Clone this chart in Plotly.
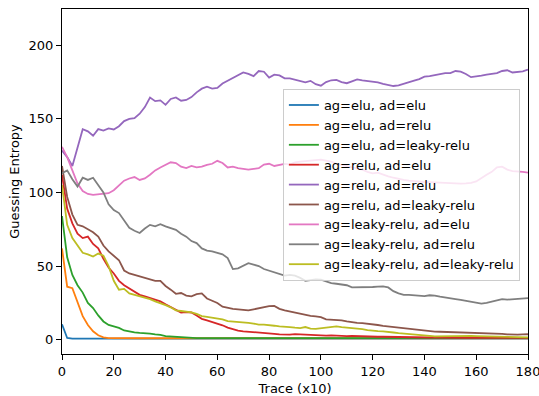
import plotly.graph_objects as go

x = list(range(0, 181, 2))

elu_elu = [10.5, 1.2] + [0.8] * 89

elu_relu = [62, 36, 35, 25, 16, 10, 5.7, 3.0, 1.6, 1.1] + [1.0] * 81

elu_leaky = [84, 56, 44, 37, 32, 25, 21.5, 16.5, 12.4, 10, 9, 8, 6.3, 5.5, 5, 4.6,
             4.5, 4.1, 3.6, 3.3, 2.4, 2.2, 1.8, 1.3, 1.3, 1.2] + [1.1] * 65

relu_elu = [112, 89, 79, 72, 69, 70, 65, 62, 55, 49, 45, 40, 37, 35, 33, 30.5,
            29.5, 28.3, 27, 26, 24, 22, 20, 18.5, 18.8, 18.5, 16.5, 14.2, 13.2, 12,
            11.2, 9.8, 8.2, 7, 6.2, 5.7, 5.5, 5.2, 5, 4.6, 4.3, 4.0, 3.6, 3.3, 3.5,
            3.8, 3.6, 3.2, 3.0, 2.9, 2.9, 2.8, 2.9, 2.6, 2.7, 2.5, 2.6, 2.4, 2.3,
            2.3, 2.1, 2.0, 2.0, 1.9, 1.9, 1.8, 1.8, 1.7, 1.6, 1.6, 1.5, 1.5, 1.5,
            1.4, 1.5, 1.4, 1.4, 1.4, 1.3, 1.4, 1.3, 1.3, 1.3, 1.3, 1.3, 1.3, 1.3,
            1.3, 1.3, 1.3, 1.3]

relu_relu = [128.5, 124, 118, 130, 143, 141.5, 138.5, 143, 142, 143.5, 142.8, 145,
             148.5, 150, 150.5, 153.5, 158, 164.5, 162, 162.5, 159.5, 163.5, 164.5,
             162.3, 162.8, 164.8, 168, 170.5, 171.8, 170.5, 171, 174, 176, 177.5,
             180, 181.5, 180.5, 179, 182.5, 182, 178, 180, 179.5, 177.5, 177.5,
             176.5, 175.5, 174.8, 175.8, 173.5, 172.5, 175, 176.2, 176.4, 175,
             174.2, 175.5, 176.8, 176.2, 175.8, 175, 174.8, 173.8, 173, 172.3,
             172.8, 174, 175.3, 176, 177, 178.6, 179, 179.8, 180.5, 181, 181,
             182.5, 182, 180.5, 178.3, 178.6, 179.3, 180, 180.5, 181, 182.5, 183,
             181.5, 181.8, 182.2, 183.5]

relu_leaky = [118, 97, 85, 78, 77, 75, 73, 70, 64, 60, 57, 54, 47, 45, 44, 43, 42,
              41, 40, 40, 36.5, 34, 31.2, 31.7, 30, 29.5, 31, 31.5, 28, 26.5, 24.9,
              22.4, 21.5, 21, 20.6, 20.3, 19.9, 20.6, 21.5, 22.2, 22.8, 23, 21, 20,
              19.2, 18.3, 17.3, 16.8, 16.2, 15.8, 15.3, 13.8, 13.6, 13.8, 13.2, 12.5,
              11.8, 11.5, 11.3, 11, 10.5, 10, 9.4, 9, 8.5, 8, 7.6, 7.3, 7, 6.6, 6.2,
              5.9, 5.5, 5.4, 5.3, 5.2, 5.1, 5.0, 5.0, 4.8, 4.7, 4.5, 4.4, 4.2, 4.0,
              3.9, 3.6, 3.4, 3.5, 3.6, 3.7]

leaky_elu = [131, 124, 115, 106, 101, 99, 98.4, 98.6, 98.8, 99.5, 101.5, 105, 108,
             109.5, 110.5, 108.5, 109.5, 112, 115, 117, 118.5, 120.5, 120, 117.5,
             116.5, 118, 117, 117.5, 118.7, 119.5, 121.5, 120, 117, 117.5, 116.5,
             116, 115.5, 116, 116.5, 119, 119.5, 118, 118.5, 119.4, 119, 120.5, 121,
             121.5, 122, 122, 122.3, 121.5, 121, 119.5, 118.7, 118, 117.5, 116.5,
             115.5, 114, 113, 113.5, 112, 111, 110, 109, 108.5, 108, 107.5, 107.5,
             107, 107, 106.8, 106.5, 106.3, 106.5, 106.3, 106, 106.2, 106.5, 107.5,
             110, 112, 114, 117, 117.5, 115.5, 114.5, 114.5, 114, 113.5]

leaky_relu = [113, 115, 109, 104, 110, 108.5, 110, 105, 100, 92, 88, 86, 81, 76, 74,
              72.5, 75.5, 78, 77, 78.5, 77, 76, 74.6, 72, 70, 67, 65.6, 62, 60.5, 60,
              59, 58, 55.4, 48, 48.5, 50.5, 52, 51, 50, 48, 47, 45.5, 44.5, 43.5, 44,
              43.5, 42, 40, 40.5, 41, 40.8, 39.5, 38.5, 38, 37.5, 37, 35.5, 35.5,
              35.5, 35.3, 35.8, 36, 36.2, 35.5, 33, 31.5, 30.5, 30.5, 30.2, 29.8,
              29.6, 30.2, 30, 29.2, 28.5, 28, 27.5, 27, 26.5, 26, 25.3, 24.5, 25, 26,
              26.5, 27.5, 27.2, 27.5, 28, 28.5, 28.3]

leaky_leaky = [105, 78, 69, 64, 59, 58, 56.5, 58.5, 57, 50, 40, 34, 34.5, 31.5, 30.5,
               30, 29, 27.6, 26, 25, 23.5, 22, 20, 19.5, 19.2, 18.5, 17.5, 16, 15.5,
               15, 14.6, 13.8, 12.6, 12.4, 12, 11.8, 11.4, 11, 10.3, 10.2, 10, 9.5, 9,
               9, 8.6, 8.2, 7.9, 8.6, 7.5, 7.4, 7.8, 8.2, 8.6, 9, 8.5, 8.2, 8, 7.6,
               7.2, 6.5, 6, 5.8, 5.7, 5.5, 4.9, 4.5, 4.1, 3.9, 3.6, 3.4, 3.0, 2.6,
               2.3, 2.4, 2.5, 2.6, 2.6, 2.7, 2.7, 2.6, 2.5, 2.4, 2.4, 2.3, 2.3, 2.3,
               2.2, 2.0, 1.9, 1.7, 1.6]

x_ticks = [0, 20, 40, 60, 80, 100, 120, 140, 160, 180]
y_ticks = [0, 50, 100, 150, 200]

names = ["ag=elu, ad=elu", "ag=elu, ad=relu", "ag=elu, ad=leaky-relu",
         "ag=relu, ad=elu", "ag=relu, ad=relu", "ag=relu, ad=leaky-relu",
         "ag=leaky-relu, ad=elu", "ag=leaky-relu, ad=relu",
         "ag=leaky-relu, ad=leaky-relu"]
series = [elu_elu, elu_relu, elu_leaky, relu_elu, relu_relu, relu_leaky,
          leaky_elu, leaky_relu, leaky_leaky]
colors = ["#1f77b4", "#ff7f0e", "#2ca02c", "#d62728", "#9467bd", "#8c564b",
          "#e377c2", "#7f7f7f", "#bcbd22"]

fig = go.Figure()
for n, s, c in zip(names, series, colors):
    fig.add_trace(go.Scatter(x=x, y=s, mode="lines", name=n,
                             line=dict(color=c, width=1.8)))

axis_common = dict(showgrid=False, zeroline=False, showline=True, linecolor="black",
                   linewidth=1, mirror=True, ticks="outside", ticklen=5,
                   tickwidth=1, tickcolor="black", automargin=False,
                   ticklabeloverflow="allow",
                   tickfont=dict(family="DejaVu Sans", size=13, color="black"))

fig.update_layout(
    width=539, height=396,
    margin=dict(l=62, r=11, t=9, b=42),
    paper_bgcolor="white", plot_bgcolor="white",
    font=dict(family="DejaVu Sans", size=13, color="black"),
    xaxis=dict(range=[0, 180], tickvals=x_ticks,
               title=dict(text="Trace (x10)", standoff=6,
                          font=dict(family="DejaVu Sans", size=13)),
               **axis_common),
    yaxis=dict(range=[-9.7, 224.6], tickvals=y_ticks,
               title=dict(text="Guessing Entropy", standoff=6,
                          font=dict(family="DejaVu Sans", size=13)),
               **axis_common),
    legend=dict(x=0.474, y=0.768, xanchor="left", yanchor="top",
                bgcolor="rgba(255,255,255,0.8)", bordercolor="#cccccc",
                borderwidth=1, tracegroupgap=0,
                font=dict(family="DejaVu Sans", size=13, color="black")),
    showlegend=True,
)

fig.write_html("out.html")
